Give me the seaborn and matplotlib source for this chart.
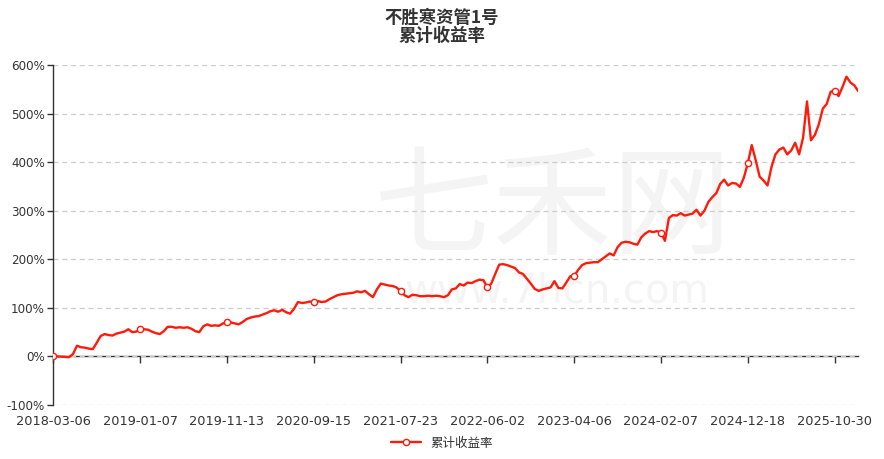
import numpy as np
import pandas as pd
import seaborn as sns
import matplotlib
matplotlib.use("Agg")
import matplotlib.pyplot as plt

# chart data: cumulative return (%) sampled along the category axis
tick_dates = ["2018-03-06", "2019-01-07", "2019-11-13", "2020-09-15", "2021-07-23",
              "2022-06-02", "2023-04-06", "2024-02-07", "2024-12-18", "2025-10-30"]
tick_step = 22

returns = [
    0, 0, -0.5, -1, -1.5, 5, 22, 19, 18, 16, 15, 28, 42, 46, 44, 43, 47, 49, 51, 56, 50, 51,
    56, 56, 55, 51, 48, 46, 52, 61, 61, 59, 60, 59, 60, 57, 52, 50, 62, 66, 63, 64, 63, 68,
    70, 70, 68, 66, 71, 77, 80, 82, 83, 86, 89, 93, 95, 92, 96, 91, 88, 98, 112, 110, 111, 113,
    112, 114, 112, 113, 118, 122, 126, 128, 129, 130, 131, 134, 132, 135, 128, 122, 138, 150, 148, 146,
    145, 142, 134, 126, 122, 127, 126, 124, 124, 125, 124, 125, 124, 122, 126, 138, 140, 149, 146, 152,
    151, 155, 158, 157, 142, 150, 170, 189, 190, 188, 185, 182, 173, 170, 160, 150, 139, 135, 138, 140,
    142, 155, 141, 140, 152, 165, 166, 178, 188, 192, 193, 194, 194, 200, 206, 212, 208, 225, 234, 236,
    235, 232, 230, 245, 253, 258, 256, 258, 255, 238, 285, 291, 290, 295, 290, 292, 294, 302, 290, 300,
    318, 328, 336, 355, 364, 352, 357, 356, 349, 368, 398, 435, 404, 370, 362, 352, 390, 416, 426, 430,
    416, 424, 440, 416, 450, 525, 445, 456, 478, 510, 520, 545, 547, 536, 555, 576, 564, 558, 546,
]

y_ticks = [-100, 0, 100, 200, 300, 400, 500, 600]

title = "不胜寒资管1号\n累计收益率"
series_name = "累计收益率"

df = pd.DataFrame({"idx": np.arange(len(returns)), "ret": returns})

sns.set_style("white")
plt.rcParams["font.family"] = ["DejaVu Sans", "Noto Sans CJK SC"]
cjk = ["Noto Sans CJK SC", "DejaVu Sans"]

fig = plt.figure(figsize=(8.84, 4.59), dpi=100)
ax = fig.add_axes([53.3 / 884, 54 / 459, 805 / 884, 340 / 459])

# faint watermark
ax.text(0.62, 0.57, "七禾网", transform=ax.transAxes, ha="center", va="center",
        fontsize=86, color="#f4f4f4", family=cjk, zorder=0)
ax.text(0.625, 0.335, "www.7hcn.com", transform=ax.transAxes, ha="center", va="center",
        fontsize=29, color="#f4f4f4", zorder=0)

sns.lineplot(data=df, x="idx", y="ret", ax=ax, color="#ff1a0a", linewidth=1.7,
             label=series_name, legend=False, zorder=3)
line = ax.get_lines()[-1]
line.set_marker("o")
line.set_markevery(tick_step)
line.set_markersize(4.5)
line.set_markerfacecolor("white")
line.set_markeredgecolor("#ff1a0a")
line.set_markeredgewidth(1.0)

ax.set_xlim(0, len(returns) - 1)
ax.set_ylim(-100, 600)
ax.set_yticks(y_ticks)
ax.set_yticklabels([f"{v}%" for v in y_ticks])
ax.yaxis.grid(True, linestyle=(0, (4, 3)), color="#cccccc", linewidth=0.9)
ax.xaxis.grid(False)

for s in ["top", "right", "bottom"]:
    ax.spines[s].set_visible(False)
ax.spines["left"].set_color("#333333")
ax.spines["left"].set_linewidth(1.0)
ax.tick_params(axis="y", left=True, length=4, width=1, color="#333333",
               labelsize=8.6, labelcolor="#333333", pad=2)

# labels on the bottom, no marks
xt = list(range(0, len(returns), tick_step))
ax.set_xticks(xt)
ax.set_xticklabels(tick_dates)
ax.tick_params(axis="x", bottom=False, length=0, labelsize=9.3, labelcolor="#333333", pad=7)
ax.set_xlabel("")
ax.set_ylabel("")

# axis line at zero with tick marks
sec = ax.secondary_xaxis(100 / 700)
sec.set_xticks(xt)
sec.set_xticklabels([])
sec.tick_params(axis="x", direction="out", length=5, width=1, color="#333333")
sec.spines["bottom"].set_color("#333333")
sec.spines["bottom"].set_linewidth(1.0)

fig.text(0.5, 1 - 27 / 459, title, ha="center", va="center", fontsize=12.5,
         fontweight="bold", color="#333333", family=cjk, linespacing=0.95)

fig.legend(handles=[line], labels=[series_name], loc="center",
           bbox_to_anchor=(0.5, 16 / 459), frameon=False, handlelength=2.4,
           prop={"family": cjk, "size": 9}, labelcolor="#333333")

fig.savefig("out.png", dpi=100)
